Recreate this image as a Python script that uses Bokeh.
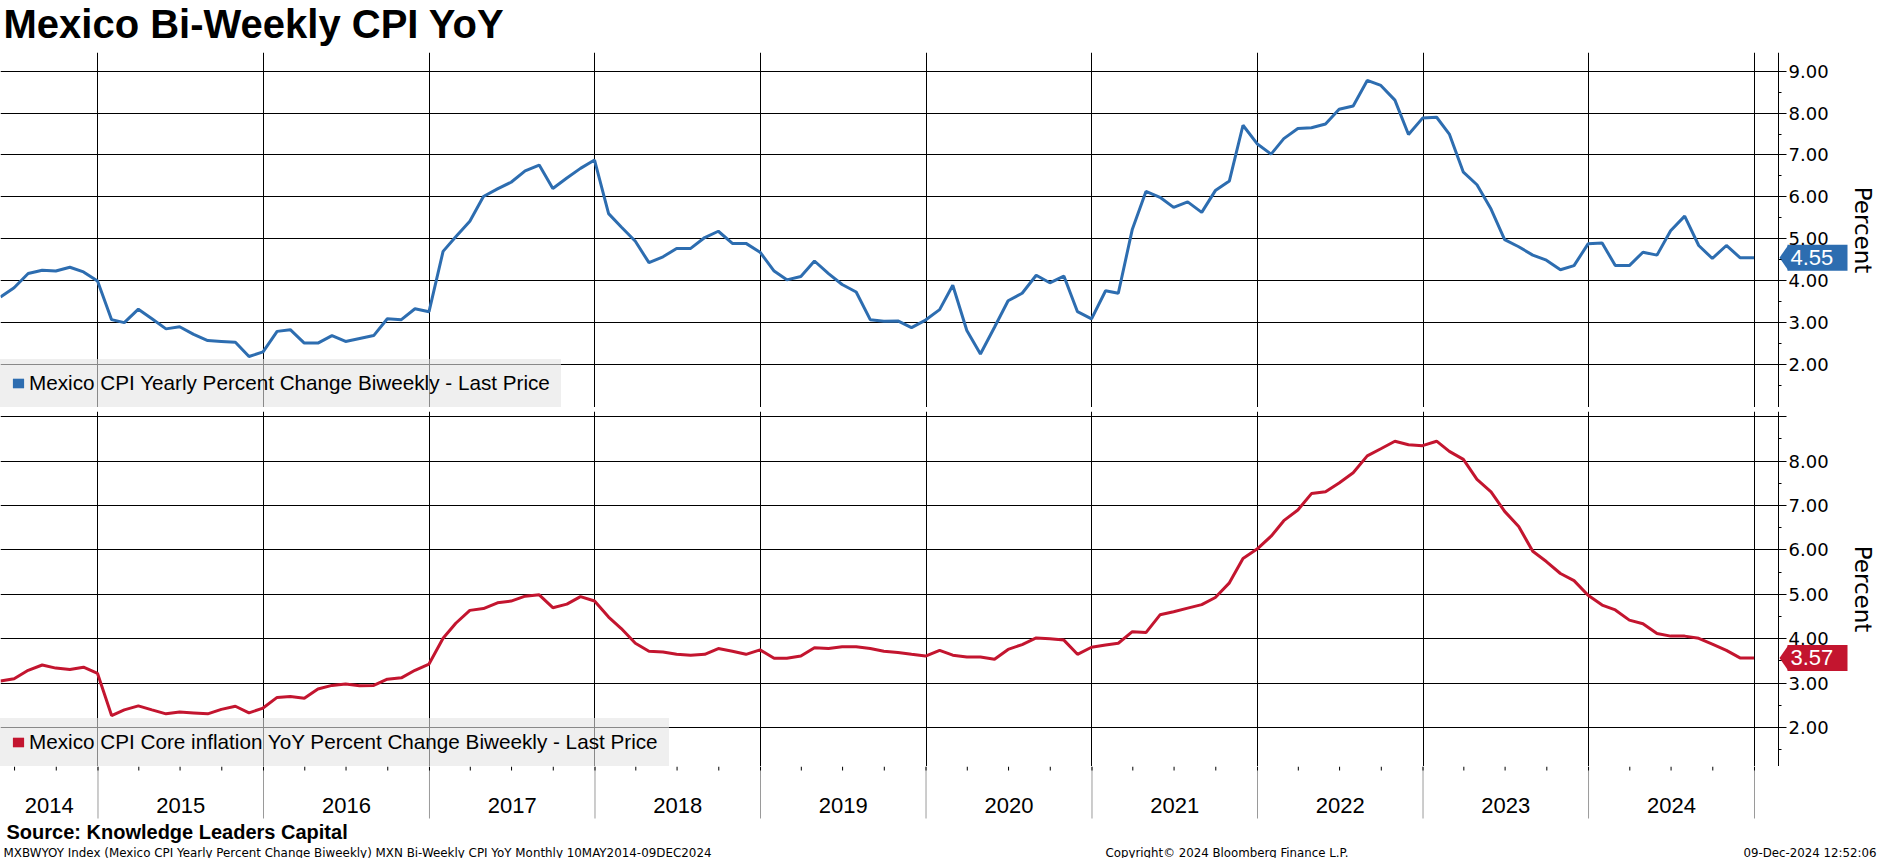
import math
import pandas as pd
from bokeh.plotting import figure
from bokeh.layouts import column
from bokeh.models import Range1d, FixedTicker, PrintfTickFormatter, Label, Legend, LegendItem
from bokeh.core.properties import value
from bokeh.embed import file_html
from bokeh.resources import INLINE

# ---------------- data ----------------
months = pd.date_range(start="2014-05-31", periods=128, freq=pd.offsets.MonthEnd())

cpi_yoy = [
    3.61, 3.83, 4.17, 4.25, 4.23, 4.32, 4.21, 3.99,
    3.07, 3.00, 3.32, 3.09, 2.85, 2.90, 2.72, 2.57, 2.55, 2.53, 2.19, 2.30,
    2.79, 2.83, 2.51, 2.51, 2.69, 2.55, 2.62, 2.69, 3.09, 3.07, 3.33, 3.26,
    4.70, 5.05, 5.42, 6.01, 6.19, 6.35, 6.62, 6.76, 6.20, 6.45, 6.68, 6.88,
    5.60, 5.28, 4.94, 4.43, 4.57, 4.77, 4.77, 5.03, 5.18, 4.89, 4.89, 4.68,
    4.23, 4.02, 4.10, 4.47, 4.17, 3.91, 3.73, 3.07, 3.03, 3.04, 2.88, 3.06,
    3.31, 3.89, 2.81, 2.25, 2.89, 3.52, 3.70, 4.13, 3.95, 4.11, 3.26, 3.09,
    3.76, 3.70, 5.23, 6.13, 5.99, 5.75, 5.88, 5.63, 6.15, 6.38, 7.71, 7.27,
    7.02, 7.39, 7.63, 7.65, 7.74, 8.09, 8.17, 8.78, 8.66, 8.31, 7.49, 7.88,
    7.90, 7.50, 6.59, 6.29, 5.71, 4.98, 4.81, 4.61, 4.49, 4.26, 4.36, 4.88,
    4.90, 4.36, 4.36, 4.68, 4.61, 5.19, 5.54, 4.84, 4.53, 4.84, 4.55, 4.55,
]

core_yoy = [
    3.05, 3.10, 3.29, 3.41, 3.34, 3.31, 3.36, 3.22,
    2.27, 2.40, 2.49, 2.40, 2.31, 2.35, 2.33, 2.31, 2.41, 2.48, 2.33, 2.44,
    2.68, 2.70, 2.66, 2.87, 2.95, 2.98, 2.94, 2.95, 3.09, 3.12, 3.29, 3.43,
    4.01, 4.35, 4.64, 4.68, 4.81, 4.85, 4.96, 4.99, 4.70, 4.78, 4.95, 4.85,
    4.49, 4.23, 3.90, 3.72, 3.70, 3.65, 3.63, 3.65, 3.78, 3.72, 3.65, 3.75,
    3.56, 3.56, 3.61, 3.80, 3.78, 3.82, 3.82, 3.78, 3.72, 3.69, 3.65, 3.61,
    3.74, 3.63, 3.59, 3.59, 3.54, 3.76, 3.87, 4.02, 4.00, 3.97, 3.65, 3.81,
    3.86, 3.90, 4.16, 4.14, 4.54, 4.61, 4.69, 4.77, 4.93, 5.26, 5.81, 6.02,
    6.31, 6.66, 6.90, 7.27, 7.31, 7.51, 7.74, 8.12, 8.28, 8.45, 8.37, 8.35,
    8.45, 8.22, 8.04, 7.59, 7.31, 6.87, 6.53, 5.97, 5.74, 5.47, 5.31, 4.98,
    4.76, 4.65, 4.42, 4.34, 4.12, 4.06, 4.06, 4.01, 3.88, 3.74, 3.57, 3.57,
]

years = [str(y) for y in range(2014, 2025)]
y_ticks = [2, 3, 4, 5, 6, 7, 8, 9]
y_minor = [1.5, 2.5, 3.5, 4.5, 5.5, 6.5, 7.5, 8.5, 9.5]

title_text = "Mexico Bi-Weekly CPI YoY"
cpi_label = "Mexico CPI Yearly Percent Change Biweekly - Last Price"
core_label = "Mexico CPI Core inflation YoY Percent Change Biweekly - Last Price"
axis_title = "Percent"
source_text = "Source: Knowledge Leaders Capital"
footer_text = ("MXBWYOY Index (Mexico CPI Yearly Percent Change Biweekly) MXN Bi-Weekly CPI YoY"
               "  Monthly 10MAY2014-09DEC2024")
copyright_text = "Copyright\u00a9 2024 Bloomberg Finance L.P."
stamp_text = "09-Dec-2024 12:52:06"

# ---------------- styling / layout ----------------
BLUE = "#2d6db0"
RED = "#c3152f"
W = 1877
SANS = "Liberation Sans"
DJ = "DejaVu Sans"
PX_2025 = 1754      # pixel of the 2025 boundary
PX_AXIS = 1778      # pixel of the value axis line


def to_ms(ts):
    return (pd.Timestamp(ts) - pd.Timestamp("1970-01-01")).total_seconds() * 1000.0


x_start = to_ms(months[0])
mspp = (to_ms("2025-01-01") - x_start) / PX_2025


def x_at(px):
    return x_start + px * mspp


x_end = x_at(W)
axis_loc = x_at(PX_AXIS)
xr = Range1d(start=x_start, end=x_end)

year_bounds = [to_ms(f"{int(y) + 1}-01-01") for y in years]
year_centers = []
for y in years:
    lo = max(to_ms(f"{y}-01-01"), x_start)
    hi = min(to_ms(f"{int(y) + 1}-01-01"), axis_loc)
    year_centers.append((lo + hi) / 2)
quarters = [to_ms(d) for d in pd.date_range("2014-07-01", "2025-01-01", freq="QS")]


def bare(height, y_range, x_range=None):
    p = figure(width=W, height=height, x_range=x_range if x_range is not None else Range1d(0, W),
               y_range=y_range, toolbar_location=None, output_backend="svg",
               x_axis_location=None, y_axis_location=None,
               min_border_left=0, min_border_right=0, min_border_top=0, min_border_bottom=0,
               outline_line_color=None, background_fill_color="white",
               border_fill_color="white")
    p.grid.visible = False
    return p


def panel(height, y0, y1, series, color, leg_label, hide_top=False):
    p = figure(width=W, height=height, x_range=xr, y_range=Range1d(y0, y1),
               y_axis_location="right", x_axis_location=None,
               toolbar_location=None, output_backend="svg",
               min_border_left=0, min_border_right=0,
               min_border_top=0, min_border_bottom=0,
               outline_line_color=None, background_fill_color="white",
               border_fill_color="white")
    ppu = height / (y1 - y0)
    ax = p.yaxis[0]
    ax.fixed_location = axis_loc
    ax.ticker = FixedTicker(ticks=y_ticks, minor_ticks=y_minor)
    ax.formatter = PrintfTickFormatter(format="%.2f")
    if hide_top:
        ax.major_label_overrides = {9: ""}
    ax.axis_line_color = "black"
    ax.major_tick_line_color = "black"
    ax.minor_tick_line_color = "black"
    ax.major_tick_out = 8
    ax.major_tick_in = 0
    ax.minor_tick_out = 3
    ax.minor_tick_in = 0
    ax.major_label_standoff = 2
    ax.major_label_text_font = DJ
    ax.major_label_text_font_size = "18px"
    ax.major_label_text_color = "black"

    p.ygrid.ticker = FixedTicker(ticks=y_ticks)
    p.ygrid.grid_line_color = "black"
    p.ygrid.grid_line_width = 1
    try:
        p.ygrid.cross_bounds = (x_start, axis_loc)
    except Exception:
        pass
    p.xgrid.ticker = FixedTicker(ticks=year_bounds)
    p.xgrid.grid_line_color = "black"
    p.xgrid.grid_line_width = 1

    p.line(x=months, y=series, line_color=color, line_width=3)

    # last-value badge
    last = series[-1]
    dy = 13.0 / ppu
    badge = p.quad(left=[x_at(1787)], right=[x_at(1847)], bottom=[last - dy], top=[last + dy],
                   fill_color=color, line_color=None)
    p.patch(x=[x_at(1779), x_at(1788), x_at(1788)], y=[last, last + dy, last - dy],
            fill_color=color, line_color=None)
    p.text(x=[x_at(1790)], y=[last], text=[f"{last:.2f}"], text_font=value(SANS),
           text_font_size="22px", text_color="white", text_align="left",
           text_baseline="middle")

    leg = Legend(items=[LegendItem(label=leg_label, renderers=[badge])],
                 location="bottom_left", margin=0, padding=11, spacing=0,
                 glyph_width=14, glyph_height=12, label_standoff=4,
                 label_text_font=SANS, label_text_font_size="20.7px",
                 label_height=26, label_text_color="black",
                 background_fill_color="#e4e4e4", background_fill_alpha=0.6,
                 border_line_color="#e4e4e4", border_line_alpha=0.0)
    p.add_layout(leg)

    p.add_layout(Label(x=1862, y=(y0 + y1) / 2, x_units="screen", y_units="data",
                       text=axis_title, text_font=DJ, text_font_size="23px",
                       text_color="black", angle=-math.pi / 2,
                       text_align="center", text_baseline="middle"))
    return p


# title strip
TH = 52
p_title = bare(TH, Range1d(0, TH))
p_title.text(x=[3], y=[TH - 23.5], text=[title_text], text_font=value(SANS),
             text_font_style="bold", text_font_size="40px", text_color="black",
             text_align="left", text_baseline="middle")

PH = 355
p_top = panel(PH, 9.446 - PH / 41.9, 9.446, cpi_yoy, BLUE, cpi_label)

# separator bar
p_sep = bare(4, Range1d(0, 4))
p_sep.background_fill_color = "#3c3c3c"
p_sep.border_fill_color = "#3c3c3c"
p_sep.segment(x0=[932], y0=[1.5], x1=[946], y1=[1.5], line_color="#8c8c8c", line_width=1)
p_sep.segment(x0=[932], y0=[2.6], x1=[946], y1=[2.6], line_color="#8c8c8c", line_width=1)

p_bot = panel(PH, 9.119 - PH / 44.4, 9.119, core_yoy, RED, core_label, hide_top=True)

# year band + footer
BH = 92
p_band = bare(BH, Range1d(0, BH), x_range=xr)
p_band.segment(x0=year_bounds, y0=[BH] * len(year_bounds), x1=year_bounds,
               y1=[BH - 52] * len(year_bounds), line_color="#9a9a9a", line_width=1)
p_band.segment(x0=quarters, y0=[BH] * len(quarters), x1=quarters,
               y1=[BH - 4] * len(quarters), line_color="black", line_width=1)
p_band.text(x=year_centers, y=[BH - 39] * len(years), text=years,
            text_font=value(SANS), text_font_size="22px", text_color="black",
            text_align="center", text_baseline="middle")
p_band.text(x=[x_at(6)], y=[BH - 65.5], text=[source_text], text_font=value(SANS),
            text_font_style="bold", text_font_size="20px", text_color="black",
            text_align="left", text_baseline="middle")
foot_y = BH - 86
p_band.text(x=[x_at(3)], y=[foot_y], text=[footer_text], text_font=value(DJ),
            text_font_size="11.9px", text_color="black", text_align="left",
            text_baseline="middle")
p_band.text(x=[x_at(1105)], y=[foot_y], text=[copyright_text], text_font=value(DJ),
            text_font_size="11.8px", text_color="black", text_align="left",
            text_baseline="middle")
p_band.text(x=[x_at(1876)], y=[foot_y], text=[stamp_text], text_font=value(DJ),
            text_font_size="11.8px", text_color="black", text_align="right",
            text_baseline="middle")

layout = column(p_title, p_top, p_sep, p_bot, p_band, spacing=0)
open("out.html", "w").write(file_html(layout, INLINE))
